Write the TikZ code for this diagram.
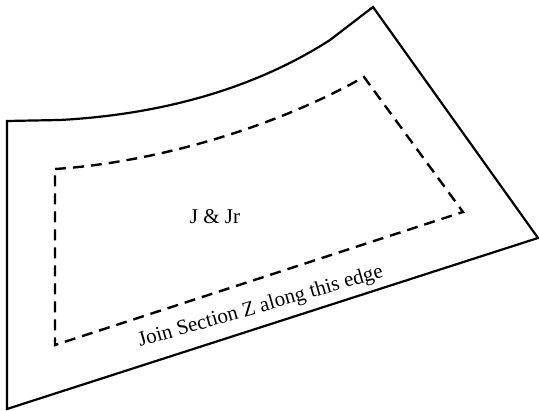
\documentclass[tikz,border=0pt]{standalone}
\usepackage{fontspec}
\setmainfont{Liberation Serif}
\begin{document}
\begin{tikzpicture}[x=1pt,y=-1pt,
  outline/.style={line width=2.2pt,line join=miter},
  seam/.style={line width=2.4pt,dash pattern=on 11pt off 7pt},
  lbl/.style={font=\fontsize{21}{24}\selectfont,inner sep=0pt}]
\useasboundingbox (0,0) rectangle (539,411);
% outer piece
\coordinate (otl) at (7,121);
\coordinate (ots) at (60,120);
\coordinate (otk) at (330,40);
\coordinate (oap) at (373,7);
\coordinate (orc) at (538,238);
\coordinate (obl) at (7,409);
\draw[outline] (otl) -- (ots) .. controls (170,114) and (260,85) .. (otk) -- (oap) -- (orc) -- (obl) -- cycle;
% inner seam line
\coordinate (itl) at (55,169);
\coordinate (itr) at (364,77);
\coordinate (ibr) at (463,212);
\coordinate (ibl) at (55,345);
\draw[seam] (itl) .. controls (150,163) and (270,130) .. (itr) -- (ibr) -- (ibl) -- cycle;
% labels
\node[lbl,anchor=base] (name) at (215,224) {J \& Jr};
\node[lbl,anchor=base,rotate=16] (edge) at (262,312) {Join Section Z along this edge};
\end{tikzpicture}
\end{document}
